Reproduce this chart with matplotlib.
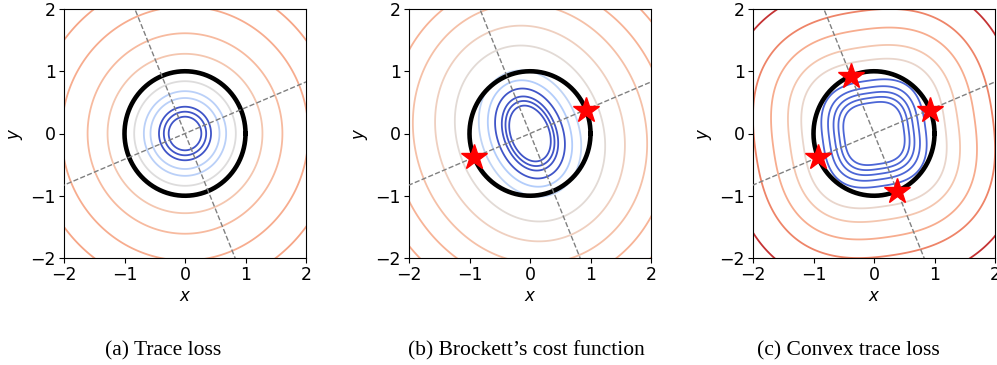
import numpy as np
import matplotlib.pyplot as plt
from matplotlib import cm

# eigenvectors of the 2x2 target matrix (rotated by pi/8)
theta = np.pi / 8
v1 = np.array([np.cos(theta), np.sin(theta)])
v2 = np.array([-np.sin(theta), np.cos(theta)])

# distance from the origin along -x where each contour line crosses
trace_dists = [0.27, 0.35, 0.43, 0.57, 0.68, 0.84, 1.0, 1.28, 1.61, 2.04, 2.5]
trace_shades = [0.02, 0.02, 0.02, 0.38, 0.38, 0.50, 0.60, 0.62, 0.66, 0.70, 0.72]

brockett_dists = [0.33, 0.39, 0.45, 0.56, 0.68, 0.83, 1.23, 1.56, 1.93, 2.3, 2.7]
brockett_shades = [0.02, 0.02, 0.02, 0.02, 0.36, 0.40, 0.52, 0.58, 0.64, 0.68, 0.70]

convex_dists = [0.50, 0.58, 0.66, 0.75, 0.86, 1.19, 1.41, 1.69, 1.99, 2.45]
convex_shades = [0.06, 0.06, 0.06, 0.06, 0.06, 0.55, 0.62, 0.70, 0.80, 0.95]

captions = ['(a) Trace loss', "(b) Brockett\u2019s cost function",
            '(c) Convex trace loss']
caption_x = [163, 526, 848]


def rotated(X, Y, ang):
    c, s = np.cos(ang), np.sin(ang)
    return X * c + Y * s, -X * s + Y * c


def trace_loss(X, Y):
    return np.sqrt(X ** 2 + Y ** 2)


def brockett(X, Y):
    u, v = rotated(X, Y, theta)
    r2 = X ** 2 + Y ** 2
    return 2.4 * u ** 2 + v ** 2 + 0.6 * r2 ** 2


def convex_trace(X, Y):
    u, v = rotated(X, Y, np.deg2rad(8))
    r2 = X ** 2 + Y ** 2
    return np.abs(u) ** 3 + np.abs(v) ** 3 + 0.07 * r2 ** 2.5


def draw_panel(ax, func, dists, shades, stars):
    g = np.linspace(-2.2, 2.2, 600)
    X, Y = np.meshgrid(g, g)
    Z = func(X, Y)
    levels = [func(-d, 0.0) for d in dists]
    colors = [cm.coolwarm(s) for s in shades]
    ax.contour(X, Y, Z, levels=levels, colors=colors, linewidths=1.3)

    t = np.linspace(0, 2 * np.pi, 400)
    ax.plot(np.cos(t), np.sin(t), color='black', lw=3.3, zorder=3)

    for vec in (v1, v2):
        s = np.array([-4, 4])
        ax.plot(s * vec[0], s * vec[1], ls='--', color='gray', lw=1.0, zorder=4)

    for p in stars:
        ax.plot(p[0], p[1], marker='*', color='red', markersize=19,
                markeredgecolor='red', zorder=5)

    ax.set_xlim(-2, 2)
    ax.set_ylim(-2, 2)
    ax.set_xticks([-2, -1, 0, 1, 2])
    ax.set_yticks([-2, -1, 0, 1, 2])
    ax.tick_params(labelsize=12.5, pad=2.5)
    ax.set_xlabel('$x$', fontsize=12, labelpad=2)
    ax.set_ylabel('$y$', fontsize=12, labelpad=4)


fig = plt.figure(figsize=(9.97, 3.65), dpi=100)
W, H = 997, 365
lefts = [64, 409, 753]
axes = [fig.add_axes([l / W, (H - 258) / H, 242 / W, 249 / H]) for l in lefts]

draw_panel(axes[0], trace_loss, trace_dists, trace_shades, [])
draw_panel(axes[1], brockett, brockett_dists, brockett_shades, [v1, -v1])
draw_panel(axes[2], convex_trace, convex_dists, convex_shades,
           [v1, -v1, v2, -v2])

for cap, cx in zip(captions, caption_x):
    fig.text(cx / W, 1 - 351 / H, cap, ha='center', va='center',
             family='Liberation Serif', fontsize=15.5)

fig.savefig('out.png', dpi=100)
